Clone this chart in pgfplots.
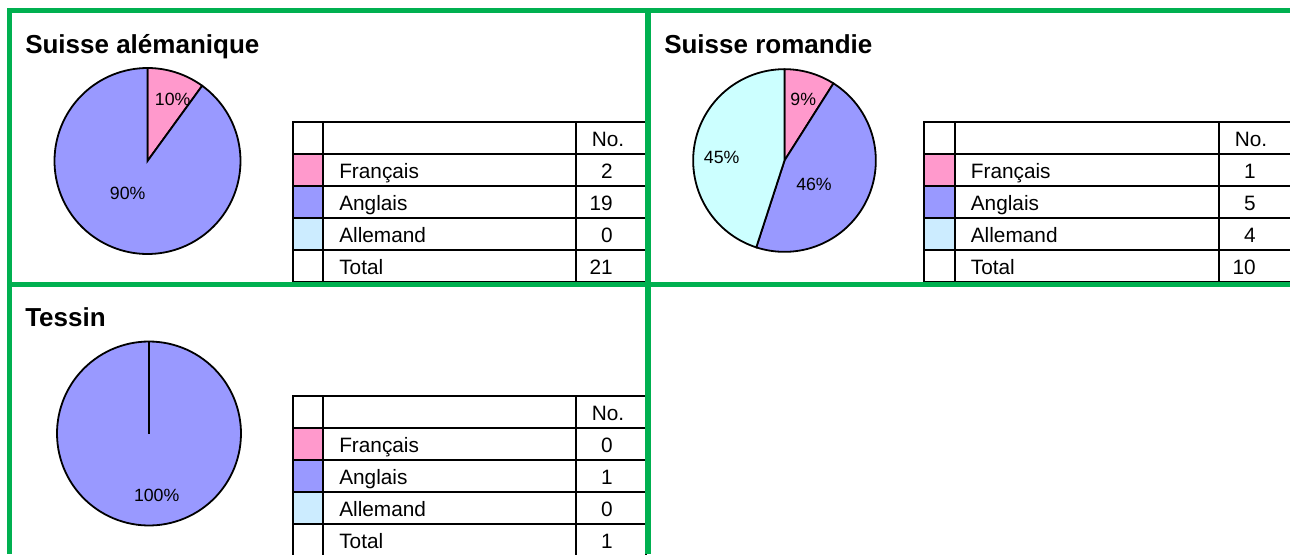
\documentclass[border=0pt]{standalone}
\usepackage{pgfplots}
\pgfplotsset{compat=1.18}
\usepgfplotslibrary{polar}
\usepackage{fontspec}
\setmainfont{Liberation Sans}
\definecolor{frpink}{RGB}{255,153,204}
\definecolor{enblue}{RGB}{153,153,255}
\definecolor{decyan}{RGB}{204,255,255}
\definecolor{deswatch}{RGB}{204,236,255}
\definecolor{xlgreen}{RGB}{0,176,80}
\newcommand\titlefont{\fontsize{19.5}{22}\selectfont\bfseries}
\newcommand\tabfont{\fontsize{15.6}{18}\selectfont}
\newcommand\piefont{\fontsize{13.3}{15}\selectfont}
\pgfplotsset{pie/.style={hide axis, scale only axis, width=139.5pt, height=139.5pt,
  ymin=0, ymax=1, xmin=0, xmax=360, anchor=origin, clip=false},
  slice/.style={draw=black, line width=1.35pt, samples=120}}
% table: #1 left, #2 top, #3 col3 (rel), #4 right (rel), #5..#8 values
\newcommand\langtable[8]{%
 \begin{scope}[shift={(#1,#2)}]
  \fill[frpink] (0,32) rectangle (30.6,64);
  \fill[enblue] (0,64) rectangle (30.6,96);
  \fill[deswatch] (0,96) rectangle (30.6,128);
  \draw[line width=1.5pt] (0,0) rectangle (#4,160);
  \draw[line width=1.5pt] (30.6,0) -- (30.6,160) (#3,0) -- (#3,160);
  \draw[line width=1.5pt] (0,32) -- (#4,32) (0,64) -- (#4,64) (0,96) -- (#4,96) (0,128) -- (#4,128);
  \node[anchor=base west, inner sep=0, font=\tabfont] at (#3+15.5,24.5) {No.};
  \node[anchor=base west, inner sep=0, font=\tabfont] at (46.3,56.5) {Français};
  \node[anchor=base west, inner sep=0, font=\tabfont] at (46.3,88.5) {Anglais};
  \node[anchor=base west, inner sep=0, font=\tabfont] at (46.3,120.5) {Allemand};
  \node[anchor=base west, inner sep=0, font=\tabfont] at (46.3,152.5) {Total};
  \node[anchor=base east, inner sep=0, font=\tabfont] at (#3+37,56.5) {#5};
  \node[anchor=base east, inner sep=0, font=\tabfont] at (#3+37,88.5) {#6};
  \node[anchor=base east, inner sep=0, font=\tabfont] at (#3+37,120.5) {#7};
  \node[anchor=base east, inner sep=0, font=\tabfont] at (#3+37,152.5) {#8};
 \end{scope}}
\begin{document}
\begin{tikzpicture}[x=0.75pt, y=-0.75pt]
\path[use as bounding box] (0,0) rectangle (1290,554);
\fill[white] (0,0) rectangle (1290,554);
\coordinate (c1) at (147.5,161);
\coordinate (c2) at (784.5,160.5);
\coordinate (c3) at (149,433.5);

% Suisse alemanique: Francais 10%, Anglais 90%, Allemand 0%
\begin{polaraxis}[pie, at={(c1)}]
\addplot[slice, fill=frpink, domain={90-3.6*10}:90] {1} -- (axis cs:0,0) -- cycle;
\addplot[slice, fill=enblue, domain={90-3.6*100}:{90-3.6*10}] {1} -- (axis cs:0,0) -- cycle;
\end{polaraxis}

% Suisse romandie: Francais 9%, Anglais 46%, Allemand 45%
\begin{polaraxis}[pie, at={(c2)}, width=137pt, height=137pt]
\addplot[slice, fill=frpink, domain={90-3.6*9}:90] {1} -- (axis cs:0,0) -- cycle;
\addplot[slice, fill=enblue, domain={90-3.6*55}:{90-3.6*9}] {1} -- (axis cs:0,0) -- cycle;
\addplot[slice, fill=decyan, domain={90-3.6*100}:{90-3.6*55}] {1} -- (axis cs:0,0) -- cycle;
\end{polaraxis}

% Tessin: Anglais 100%
\begin{polaraxis}[pie, at={(c3)}, width=138pt, height=138pt]
\addplot[slice, fill=enblue, domain={90-3.6*100}:90] {1} -- cycle;
\addplot[black, line width=1.8pt] coordinates {(90,0) (90,1)};
\end{polaraxis}

% pie labels
\node[font=\piefont] at (172.7,99.3) {10\%};
\node[font=\piefont] at (127.7,193.5) {90\%};
\node[font=\piefont] at (803.3,99.3) {9\%};
\node[font=\piefont] at (721.7,157.7) {45\%};
\node[font=\piefont] at (814,184) {46\%};
\node[font=\piefont] at (156.7,495.7) {100\%};

% titles
\node[anchor=base west, inner sep=0, font=\titlefont] at (25,53) {Suisse alémanique};
\node[anchor=base west, inner sep=0, font=\titlefont] at (664,53) {Suisse romandie};
\node[anchor=base west, inner sep=0, font=\titlefont] at (25,326.7) {Tessin};

% tables
\langtable{292.7}{122}{283.3}{353.3}{2}{19}{0}{21}
\langtable{924.3}{122}{294.7}{370}{1}{5}{4}{10}
\langtable{292.7}{396}{283.3}{353.3}{0}{1}{0}{1}

% green frame
\fill[xlgreen] (7,8) rectangle (1290,13);
\fill[xlgreen] (7,8) rectangle (12,554);
\fill[xlgreen] (645,8) rectangle (651,554);
\fill[xlgreen] (7,282) rectangle (1290,287);
\end{tikzpicture}
\end{document}
